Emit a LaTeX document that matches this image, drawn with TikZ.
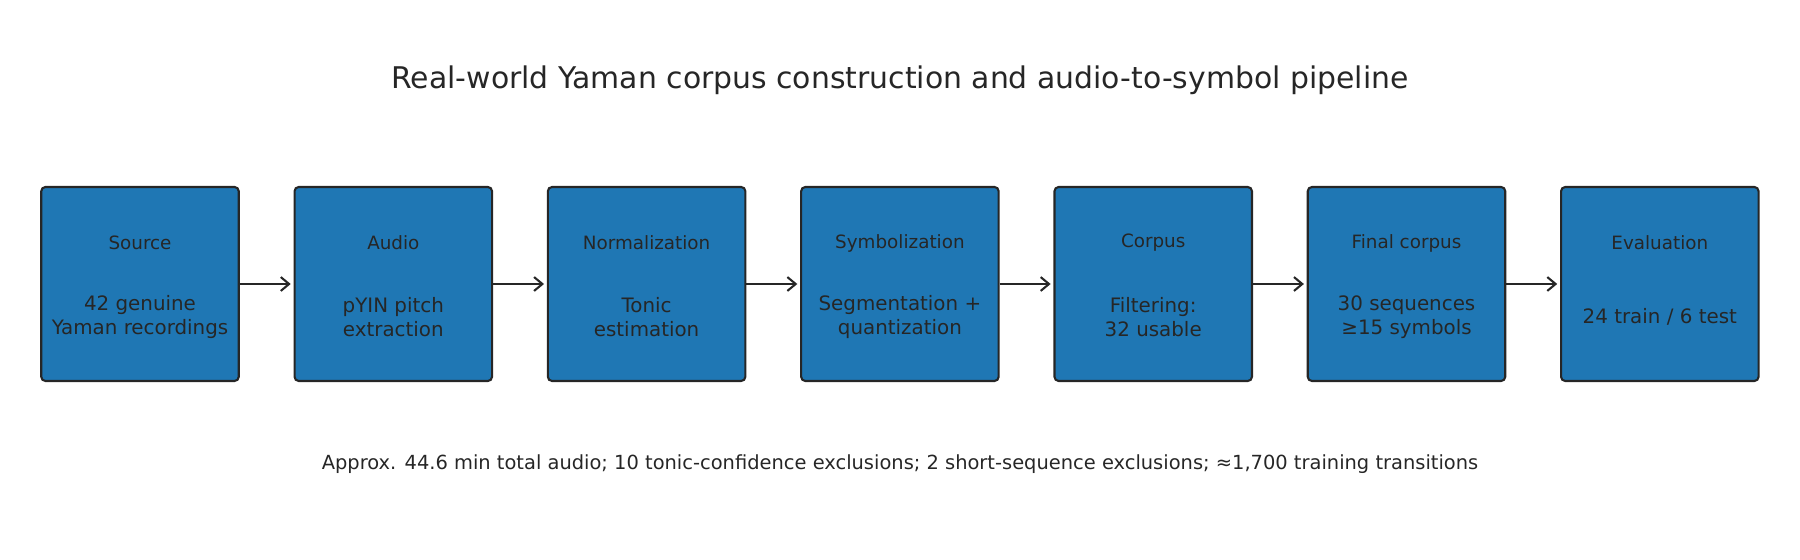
\documentclass[tikz,border=0pt]{standalone}
\usepackage{fontspec}
\setmainfont{DejaVu Sans}
\usetikzlibrary{arrows.meta}
\begin{document}
\begin{tikzpicture}[x=0.72pt,y=-0.72pt,
  box/.style={draw=black!85,line width=1.5pt,fill={rgb,255:red,31;green,119;blue,180},rounded corners=3pt,minimum width=197.5*0.72pt,minimum height=194*0.72pt,inner sep=0pt},
  head/.style={font=\fontsize{13.2}{16}\selectfont,text=black!85},
  body/.style={font=\fontsize{14.3}{17}\selectfont,text=black!85,align=center},
  arr/.style={draw=black!85,line width=1.5pt,-{Straight Barb[length=6pt,width=10pt]},shorten >=2pt}]
\useasboundingbox (0,0) rectangle (1800,560);
\node[font=\fontsize{21.5}{25}\selectfont,text=black!85] (title) at (900,80) {Real-world Yaman corpus construction and audio-to-symbol pipeline};
\foreach \i/\h/\b in {0/Source/{42 genuine\\Yaman recordings},1/Audio/{pYIN pitch\\extraction},2/Normalization/{Tonic\\estimation},3/Symbolization/{Segmentation +\\quantization},4/Corpus/{Filtering:\\32 usable},5/Final corpus/{30 sequences\\≥15 symbols},6/Evaluation/{24 train / 6 test}}{
  \node[box] (b\i) at ({140+\i*253.3},284) {};
  \node[head] (h\i) at ({140+\i*253.3},243) {\h};
  \node[body] (t\i) at ({140+\i*253.3},317) {\b};
}
\foreach \i [count=\j] in {0,...,5}{\draw[arr] (b\i.east) -- (b\j.west);}
\node[font=\fontsize{14}{16}\selectfont,text=black!85] (note) at (900,464) {Approx. 44.6 min total audio; 10 tonic-confidence exclusions; 2 short-sequence exclusions; ≈1,700 training transitions};
\end{tikzpicture}
\end{document}
